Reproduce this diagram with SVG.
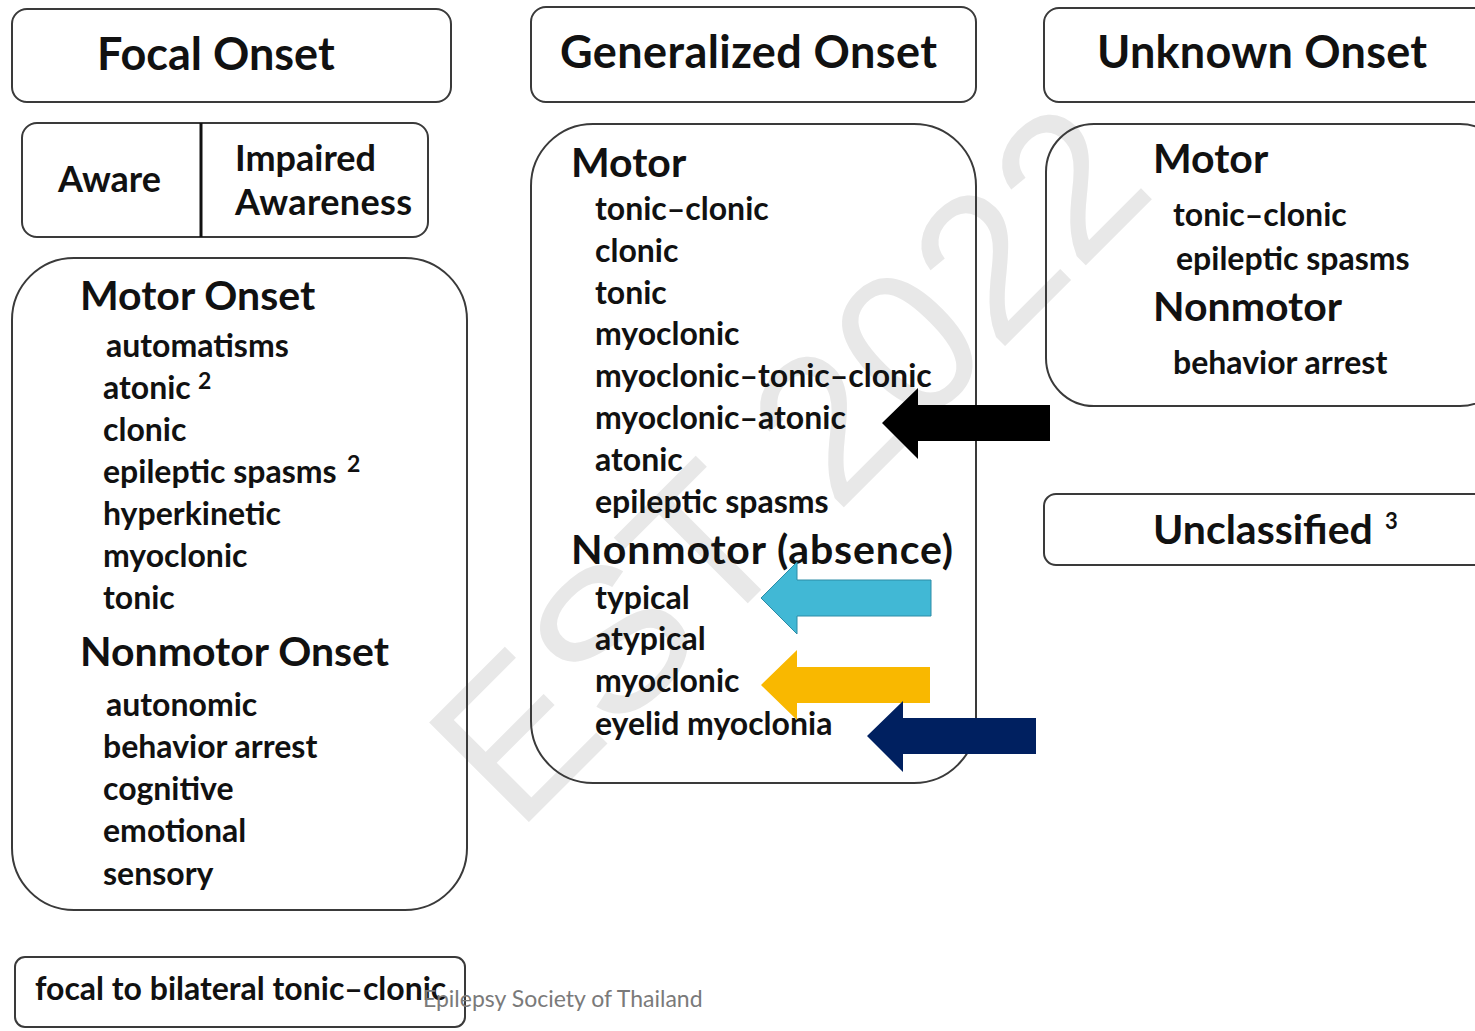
<svg xmlns="http://www.w3.org/2000/svg" width="1475" height="1031" viewBox="0 0 1475 1031">
<style>
.box{fill:none;stroke:#3a3a3a;stroke-width:2}
.t{font-family:Lato,"Open Sans","Liberation Sans",sans-serif;font-weight:bold;fill:#111}
.h1{font-size:45px}
.h2{font-size:41px}
.it{font-size:32px}
.sup{font-size:23px}
.wm{font-family:"Liberation Sans",Arial,sans-serif;font-size:205px;fill:#e8e8e8}
.foot{font-family:Lato,"Open Sans",sans-serif;font-size:23px;fill:#7a7a7a}
</style>
<rect width="1475" height="1031" fill="#fff"/>
<text class="wm" transform="translate(517,834) rotate(-45)">EST 2022</text>

<g id="focal-onset">
<rect class="box" x="12" y="9" width="439" height="93" rx="15"/>
<text class="t h1" x="97" y="70">Focal Onset</text>
</g>
<g id="awareness">
<rect class="box" x="22" y="123" width="406" height="114" rx="15"/>
<line x1="201" y1="123" x2="201" y2="237" stroke="#111" stroke-width="3"/>
<text class="t" font-size="36" x="58" y="192">Aware</text>
<text class="t" font-size="36" x="235" y="171">Impaired</text>
<text class="t" font-size="36" x="235" y="215" textLength="177">Awareness</text>
</g>
<g id="focal-types">
<rect class="box" x="12" y="258" width="455" height="652" rx="62"/>
<text class="t h2" x="80" y="310">Motor Onset</text>
<text class="t it" x="106" y="357">automatisms</text>
<text class="t it" x="103" y="399">atonic</text>
<text class="t sup" x="198" y="389">2</text>
<text class="t it" x="103" y="441">clonic</text>
<text class="t it" x="103" y="483">epileptic spasms</text>
<text class="t sup" x="347" y="472">2</text>
<text class="t it" x="103" y="525">hyperkinetic</text>
<text class="t it" x="103" y="567">myoclonic</text>
<text class="t it" x="103" y="609">tonic</text>
<text class="t h2" x="80" y="666">Nonmotor Onset</text>
<text class="t it" x="106" y="716">autonomic</text>
<text class="t it" x="103" y="758">behavior arrest</text>
<text class="t it" x="103" y="800">cognitive</text>
<text class="t it" x="103" y="842">emotional</text>
<text class="t it" x="103" y="885">sensory</text>
</g>
<g id="focal-bilateral">
<rect class="box" x="15" y="957" width="450" height="70" rx="10"/>
<text class="t it" x="35" y="1000">focal to bilateral tonic–clonic</text>
</g>

<g id="generalized-onset">
<rect class="box" x="531" y="7" width="445" height="95" rx="15"/>
<text class="t h1" x="560" y="68" textLength="377">Generalized Onset</text>
</g>
<g id="generalized-types">
<rect class="box" x="531" y="124" width="445" height="659" rx="62"/>
<text class="t h2" x="571" y="177">Motor</text>
<text class="t it" x="595" y="220">tonic–clonic</text>
<text class="t it" x="595" y="262">clonic</text>
<text class="t it" x="595" y="304">tonic</text>
<text class="t it" x="595" y="345">myoclonic</text>
<text class="t it" x="595" y="387">myoclonic–tonic–clonic</text>
<text class="t it" x="595" y="429">myoclonic–atonic</text>
<text class="t it" x="595" y="471">atonic</text>
<text class="t it" x="595" y="513">epileptic spasms</text>
<text class="t h2" x="571" y="564" textLength="382">Nonmotor (absence)</text>
<text class="t it" x="595" y="609">typical</text>
<text class="t it" x="595" y="650">atypical</text>
<text class="t it" x="595" y="692">myoclonic</text>
<text class="t it" x="595" y="735">eyelid myoclonia</text>
</g>

<g id="unknown-onset">
<rect class="box" x="1044" y="8" width="450" height="94" rx="15"/>
<text class="t h1" x="1097" y="68" textLength="330">Unknown Onset</text>
</g>
<g id="unknown-types">
<rect class="box" x="1046" y="124" width="462" height="282" rx="48"/>
<text class="t h2" x="1153" y="173">Motor</text>
<text class="t it" x="1173" y="226">tonic–clonic</text>
<text class="t it" x="1176" y="270">epileptic spasms</text>
<text class="t h2" x="1153" y="321">Nonmotor</text>
<text class="t it" x="1173" y="374">behavior arrest</text>
</g>
<g id="unclassified">
<rect class="box" x="1044" y="494" width="450" height="71" rx="12"/>
<text class="t h2" x="1153" y="544">Unclassified</text>
<text class="t" font-size="22" x="1385" y="529">3</text>
</g>

<g id="connectors">
<polygon points="882,423 918,388 918,405 1050,405 1050,441 918,441 918,459" fill="#000"/>
<polygon points="761,598 797,562 797,580 931,580 931,616 797,616 797,634" fill="#41B8D5" stroke="#2C8CA6" stroke-width="1"/>
<polygon points="761,685 797,650 797,667 930,667 930,703 797,703 797,720" fill="#F9B800"/>
<polygon points="867,736 903,701 903,718 1036,718 1036,754 903,754 903,772" fill="#002060"/>
</g>

<text class="foot" x="423" y="1007">Epilepsy Society of Thailand</text>
</svg>
